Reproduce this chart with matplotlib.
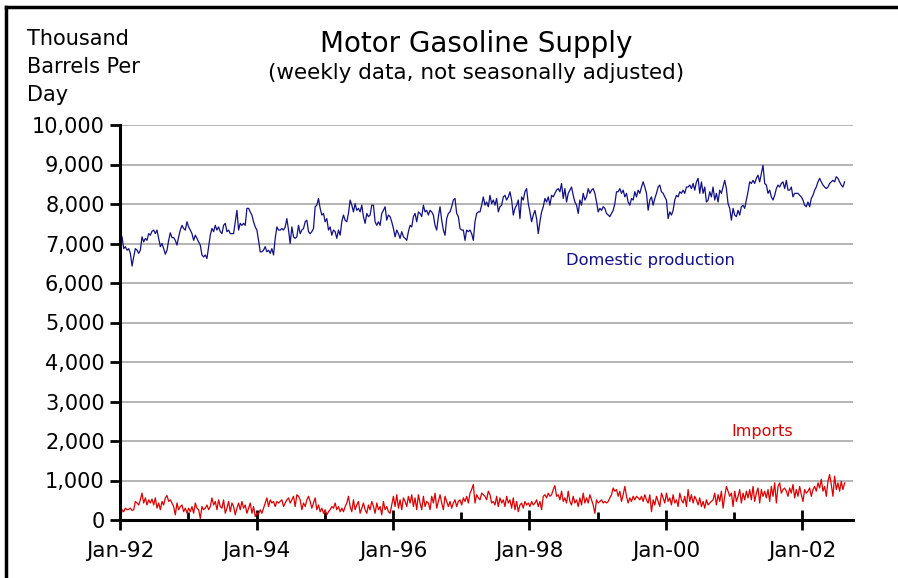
import numpy as np
import pandas as pd
import matplotlib
matplotlib.use("Agg")
import matplotlib.pyplot as plt
import matplotlib.dates as mdates
from matplotlib.lines import Line2D
from matplotlib.ticker import FuncFormatter

# weekly supply, thousand barrels per day
domestic = [
    7210, 7170, 6870, 6920, 6830, 6870, 6750, 6430, 6660, 6870, 6830, 6750, 6830, 7170, 7040, 7130,
    7080, 7250, 7210, 7310, 7340, 7250, 7340, 7130, 6920, 7000, 6870, 6730, 6830, 7080, 7270, 7150,
    7150, 7080, 6960, 7170, 7340, 7460, 7380, 7340, 7550, 7420, 7340, 7250, 7080, 7210, 7130, 7040,
    6960, 6710, 6660, 6710, 6620, 6920, 7210, 7380, 7300, 7460, 7340, 7420, 7300, 7250, 7460, 7510,
    7300, 7340, 7250, 7250, 7250, 7550, 7840, 7340, 7510, 7460, 7510, 7460, 7890, 7890, 7800, 7720,
    7550, 7420, 7340, 7080, 6790, 6790, 6830, 6920, 6790, 6830, 6750, 6870, 6710, 7130, 7420, 7340,
    7340, 7380, 7340, 7420, 7630, 7340, 7000, 7420, 7170, 7130, 7170, 7460, 7250,
    7340, 7380, 7550, 7590, 7300, 7250, 7300, 7380, 7930, 7970, 8140, 7890, 7720, 7760, 7550, 7630,
    7340, 7420, 7210, 7340, 7300, 7130, 7340, 7210, 7550, 7720, 7590, 7550, 7760, 8100, 7970, 7800,
    8010, 7840, 7890, 7800, 7970, 7680, 7510, 7760, 7680, 7720, 7970, 7970, 7550, 7460, 7550, 7460,
    7760, 7840, 7930, 7590, 7720, 7680, 7550, 7380, 7170, 7340, 7250, 7130, 7300, 7170, 7130, 7080,
    7300, 7460, 7420, 7680, 7760, 7550, 7800, 7760, 7680, 7970, 7800, 7840, 7720, 7840, 7800, 7720,
    7460, 7340, 7680, 7930, 7590, 7340, 7210, 7630, 7760, 7800, 7930, 8100, 8140, 7760, 7680, 7380,
    7340, 7340, 7080, 7340, 7300, 7340, 7250, 7080, 7550, 7760, 7800, 7800,
    7970, 8180, 7970, 8050, 7930, 8220, 8010, 8100, 7970, 8140, 7800, 7930, 7970, 8180, 8220, 8100,
    8180, 8310, 8100, 7720, 7890, 7970, 8100, 7630, 8180, 8100, 8310, 8390, 8010, 7800, 7550, 7720,
    7840, 7630, 7250, 7550, 7800, 7930, 8140, 8050, 8180, 7970, 8220, 8180, 8270, 8350, 8390, 8310,
    8520, 8140, 8390, 8050, 8270, 8350, 8430, 8220, 8050, 7970, 7760, 8100, 7970, 8270, 8100, 8180,
    8390, 8270, 8350, 8390, 8270, 8050, 7800, 7890, 7840, 7930, 7890, 7760, 7720, 7680, 7760, 7840,
    8010, 8310, 8310, 8390, 8270, 8350, 8180, 8270, 8050, 7970, 8140, 8100, 8310, 8180, 8350, 8270,
    8430, 8560, 8430, 8270, 7840, 8100, 8180, 7970, 8140, 8270, 8430, 8480,
    8310, 8270, 8180, 8100, 7630, 7800, 7720, 7840, 8100, 8220, 8180, 8310, 8270, 8350, 8270, 8430,
    8430, 8480, 8390, 8520, 8350, 8560, 8650, 8270, 8560, 8270, 8430, 8050, 8100, 8310, 8180, 8430,
    8100, 8270, 8050, 8350, 8270, 8430, 8600, 8390, 8010, 7890, 7590, 7890, 7720, 7680, 7840, 7720,
    7930, 7970, 7890, 8100, 8310, 8560, 8520, 8600, 8520, 8650, 8730, 8560, 8770, 8980, 8520, 8480,
    8270, 8350, 8180, 8100, 8220, 8390, 8480, 8430, 8520, 8560, 8390, 8600, 8350, 8350, 8430, 8180,
    8270, 8270, 8270, 8220, 8180, 8100, 7970, 7930, 8050, 7930, 8140, 8220, 8350, 8430, 8560, 8650,
    8560, 8480, 8430, 8390, 8430, 8520, 8560, 8600, 8560, 8690, 8650, 8560, 8480, 8430, 8560,
]

imports = [
    40, 260, 210, 300, 260, 270, 300, 240, 260, 470, 430, 380, 510, 680, 430, 560,
    380, 510, 430, 530, 380, 560, 300, 430, 260, 470, 380, 560, 620, 470, 510, 430,
    340, 130, 430, 260, 340, 380, 210, 300, 170, 300, 210, 340, 170, 430, 300, 260,
    40, 340, 260, 300, 380, 260, 340, 560, 380, 470, 260, 510, 340, 300, 510, 170,
    300, 470, 210, 430, 340, 130, 300, 430, 260, 470, 300, 380, 170, 300, 430, 170,
    340, 90, 170, 150, 260, 170, 300, 430, 560, 340, 510, 430, 470, 340, 470, 430,
    470, 510, 340, 430, 510, 560, 430, 510, 600, 340, 640, 600, 510,
    260, 430, 340, 510, 600, 470, 300, 430, 560, 260, 380, 210, 300, 170, 260, 130,
    210, 260, 340, 300, 430, 260, 340, 210, 300, 210, 340, 430, 600, 340, 210, 510,
    260, 380, 470, 170, 300, 430, 260, 170, 380, 260, 470, 340, 170, 430, 260, 340,
    130, 470, 260, 340, 210, 170, 380, 600, 340, 640, 300, 510, 260, 560, 470, 340,
    600, 430, 640, 340, 560, 260, 640, 430, 260, 600, 340, 470, 430, 260, 600, 430,
    680, 300, 470, 640, 430, 260, 600, 470, 340, 470, 300, 430, 510, 340, 470, 510,
    380, 560, 470, 600, 430, 680, 770, 900, 430, 640, 560, 510,
    680, 640, 600, 510, 730, 640, 430, 470, 380, 600, 340, 560, 430, 510, 340, 600,
    430, 510, 300, 560, 260, 470, 210, 380, 430, 300, 470, 380, 430, 340, 470, 380,
    430, 510, 340, 470, 260, 600, 640, 560, 680, 600, 640, 770, 870, 600, 640, 510,
    730, 470, 560, 430, 730, 470, 380, 600, 430, 510, 340, 560, 380, 680, 430, 560,
    430, 640, 510, 380, 170, 510, 430, 470, 510, 430, 470, 430, 470, 560, 640, 810,
    730, 770, 600, 730, 470, 640, 850, 600, 430, 560, 470, 600, 510, 600, 560, 510,
    600, 470, 640, 510, 430, 640, 210, 510, 380, 600, 470, 340,
    680, 560, 430, 680, 470, 560, 380, 640, 430, 510, 340, 680, 510, 430, 600, 340,
    770, 470, 640, 430, 600, 510, 380, 560, 340, 470, 300, 510, 380, 430, 470, 510,
    680, 380, 640, 470, 730, 300, 600, 850, 730, 600, 680, 340, 730, 470, 600, 770,
    430, 680, 510, 730, 560, 770, 510, 850, 470, 680, 810, 430, 770, 600, 730, 560,
    770, 470, 850, 600, 940, 430, 850, 940, 680, 770, 810, 730, 600, 810, 680, 900,
    560, 770, 600, 850, 640, 470, 770, 680, 730, 810, 600, 770, 850, 730, 940, 810,
    1030, 730, 850, 600, 980, 1150, 900, 600, 1110, 770, 940, 730, 980, 770, 940,
]

first_week = "1992-01-03"
last_week = "2002-08-16"
dom_dates = pd.date_range(first_week, last_week, periods=len(domestic))
imp_dates = pd.date_range(first_week, last_week, periods=len(imports))

FONT = "DejaVu Sans"
plt.rcParams["font.family"] = FONT

fig = plt.figure(figsize=(8.98, 5.78), dpi=100)
ax = fig.add_axes([120 / 898, 58 / 578, 733 / 898, 395 / 578])

ax.plot(dom_dates, domestic, color="#10108a", lw=0.9)
ax.plot(imp_dates, imports, color="#e00000", lw=0.9)

ax.set_ylim(0, 10000)
ax.set_xlim(pd.Timestamp("1992-01-01"), pd.Timestamp("2002-09-30"))
ax.set_yticks(np.arange(0, 10001, 1000))
ax.yaxis.set_major_formatter(FuncFormatter(lambda v, p: f"{int(v):,}"))
ax.grid(axis="y", color="#a0a0a0", lw=1.1)
ax.set_axisbelow(True)

ax.xaxis.set_major_locator(mdates.YearLocator(2))
ax.xaxis.set_minor_locator(mdates.YearLocator(1))
ax.xaxis.set_major_formatter(mdates.DateFormatter("%b-%y"))

for s in ["top", "right"]:
    ax.spines[s].set_visible(False)
for s in ["left", "bottom"]:
    ax.spines[s].set_linewidth(2.2)

ax.tick_params(axis="y", direction="out", length=7, width=2, labelsize=15, pad=4)
ax.tick_params(axis="x", which="major", direction="inout", length=14, width=2,
               labelsize=15.5, pad=8)
ax.tick_params(axis="x", which="minor", direction="in", length=6, width=2)

ax.text(pd.Timestamp("1998-07-15"), 6560, "Domestic production", color="#10108a",
        fontsize=11.7, va="center", ha="left")
ax.text(pd.Timestamp("2000-12-20"), 2250, "Imports", color="#e00000",
        fontsize=11.5, va="center", ha="left")

fig.text(476 / 898, 1 - 44 / 578, "Motor Gasoline Supply", ha="center", va="center",
         fontsize=20)
fig.text(476 / 898, 1 - 73 / 578, "(weekly data, not seasonally adjusted)", ha="center",
         va="center", fontsize=15.5)
fig.text(27 / 898, 1 - 29 / 578, "Thousand\nBarrels Per\nDay", ha="left", va="top",
         fontsize=15, linespacing=1.5)

# frame around the picture (only top and left edges visible)
fig.add_artist(Line2D([6 / 898, 1], [1 - 7 / 578, 1 - 7 / 578], color="black", lw=2.5,
                      transform=fig.transFigure))
fig.add_artist(Line2D([6 / 898, 6 / 898], [0, 1 - 7 / 578], color="black", lw=2.5,
                      transform=fig.transFigure))

fig.savefig("out.png", dpi=100)
